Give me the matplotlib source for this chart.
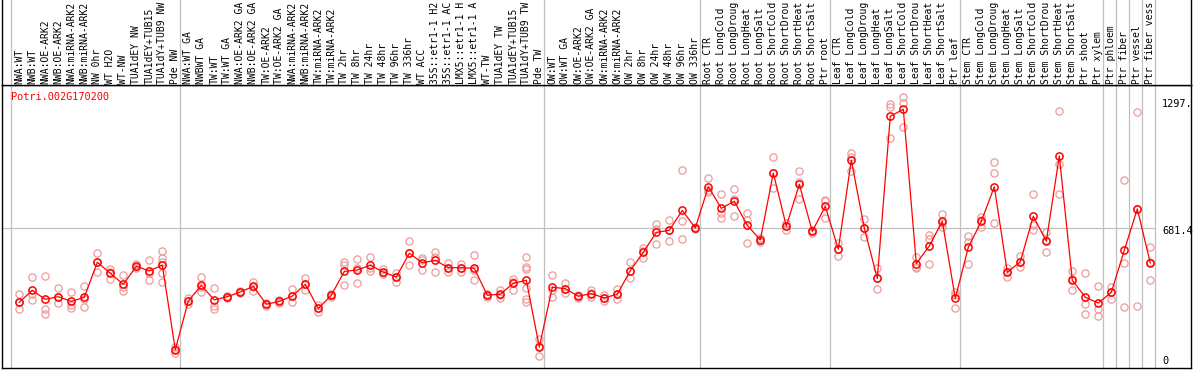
import matplotlib
matplotlib.use("Agg")
import matplotlib.pyplot as plt

gene = "Potri.002G170200"

labels = [
    "NWA:WT", "NWB:WT", "NWA:OE-ARK2", "NWB:OE-ARK2", "NWA:miRNA-ARK2", "NWB:miRNA-ARK2",
    "NW 0hr", "WT H2O", "WT-NW", "TUA1dEY NW", "TUA1dEY+TUB15", "TUA1dY+TUB9 NW", "Pde NW",
    "NWA:WT GA", "NWBWT GA", "TW:WT", "TW:WT GA", "NWA:OE-ARK2 GA", "NWB:OE-ARK2 GA",
    "TW:OE-ARK2", "TW:OE-ARK2 GA", "NWA:miRNA-ARK2", "NWB:miRNA-ARK2", "TW:miRNA-ARK2",
    "TW:miRNA-ARK2", "TW 2hr", "TW 8hr", "TW 24hr", "TW 48hr", "TW 96hr", "TW 336hr",
    "WT ACC", "35S::etr1-1 H2", "35S::etr1-1 AC", "LMX5::etr1-1 H", "LMX5::etr1-1 A",
    "WT-TW", "TUA1dEY TW", "TUA1dEY+TUB15", "TUA1dY+TUB9 TW", "Pde TW",
    "OW:WT", "OW:WT GA", "OW:OE-ARK2", "OW:OE-ARK2 GA", "OW:miRNA-ARK2", "OW:miRNA-ARK2",
    "OW 2hr", "OW 8hr", "OW 24hr", "OW 48hr", "OW 96hr", "OW 336hr",
    "Root CTR", "Root LongCold", "Root LongDroug", "Root LongHeat", "Root LongSalt",
    "Root ShortCold", "Root ShortDrou", "Root ShortHeat", "Root ShortSalt", "Ptr root",
    "Leaf CTR", "Leaf LongCold", "Leaf LongDroug", "Leaf LongHeat", "Leaf LongSalt",
    "Leaf ShortCold", "Leaf ShortDrou", "Leaf ShortHeat", "Leaf ShortSalt", "Ptr leaf",
    "Stem CTR", "Stem LongCold", "Stem LongDroug", "Stem LongHeat", "Stem LongSalt",
    "Stem ShortCold", "Stem ShortDrou", "Stem ShortHeat", "Stem ShortSalt", "Ptr shoot",
    "Ptr xylem", "Ptr phloem", "Ptr fiber", "Ptr vessel", "Ptr fiber vess",
]

means = [
    320, 378, 334, 347, 324, 344, 514, 461, 407, 495, 472, 501, 89,
    326, 402, 331, 347, 370, 397, 310, 324, 350, 407, 290, 354, 470, 477, 500, 467, 443,
    558, 512, 524, 488, 488, 485, 354, 359, 412, 427, 102,
    393, 386, 349, 362, 341, 359, 474, 563, 660, 670, 767, 681,
    882, 777, 811, 694, 623, 949, 690, 894, 665, 787,
    578, 1011, 680, 436, 1225, 1259, 508, 594, 714, 339,
    587, 714, 882, 466, 517, 738, 617, 1032, 427, 344, 316,
    368, 573, 774, 511,
]

reps = [
    [358, 320, 285], [441, 360, 329], [448, 285, 264], [388, 347, 315], [370, 308, 290],
    [399, 334, 298], [560, 514, 469], [482, 469, 433], [451, 393, 373], [506, 493, 485],
    [524, 464, 427], [571, 537, 517, 461, 417], [104, 91, 71],
    [339, 326, 311], [443, 396, 368], [388, 303, 287], [352, 347, 342], [375, 370, 363],
    [420, 396, 375], [315, 310, 303], [331, 324, 318], [383, 350, 320], [436, 407, 378],
    [307, 290, 274], [360, 353, 347], [517, 503, 402], [532, 487, 412], [540, 487, 472],
    [482, 462, 457], [464, 444, 418], [616, 558, 500], [534, 526, 478], [563, 542, 465],
    [513, 485, 469], [508, 488, 469], [550, 477, 427], [360, 353, 347], [378, 355, 342],
    [435, 420, 380], [538, 490, 482, 389, 336, 323], [139, 107, 58],
    [453, 380, 344], [412, 383, 363], [355, 349, 342], [380, 363, 344], [355, 339, 328],
    [383, 358, 334], [514, 474, 436], [582, 569, 537], [701, 675, 603], [720, 672, 616],
    [963, 714, 626], [688, 681, 675],
    [923, 866, 858], [845, 753, 732], [871, 821, 740], [756, 720, 610], [631, 623, 615],
    [1025, 947, 874], [704, 689, 672], [959, 903, 822], [672, 665, 658], [819, 813, 728],
    [607, 577, 547], [1045, 1028, 959], [725, 680, 637], [488, 436, 383], [1286, 1268, 1119],
    [1317, 1291, 1171], [542, 493, 488], [647, 628, 506], [748, 707, 688], [370, 357, 290],
    [642, 615, 506], [735, 720, 684], [1001, 947, 704], [485, 467, 444], [547, 517, 490],
    [845, 697, 672], [663, 623, 563], [1249, 993, 847], [470, 431, 378], [462, 313, 261],
    [399, 289, 251],
    [396, 371, 337], [915, 511, 295], [1244, 774, 302], [589, 517, 427],
]

# last sample index of each group (0 = left edge)
group_ends = [0, 13, 41, 53, 63, 73, 84, 85, 86, 87, 88]
ytick_vals = [1297.6, 681.4, 0]
ytick_text = ["1297.", "681.4", "0"]

W, H = 1194, 370
mono = "DejaVu Sans Mono"
grid = "#c0c0c0"
pink = "#ec9a9a"

fig = plt.figure(figsize=(W / 100, H / 100), dpi=100)
xlim = (-0.331, 91.13)

ax = fig.add_axes([2 / W, 2 / H, 1189 / W, 283 / H])
axh = fig.add_axes([2 / W, 285 / H, 1189 / W, 85 / H])

for a in (ax, axh):
    a.set_xlim(*xlim)
    a.set_xticks([])
    a.set_yticks([])
    for e in group_ends:
        a.axvline(e + 0.36, color=grid, lw=0.9, zorder=1)
    for s in a.spines.values():
        s.set_color("black")
        s.set_linewidth(1.0)
axh.spines["top"].set_visible(False)
axh.set_ylim(0, 85)

xs = list(range(1, len(means) + 1))
for i, r in zip(xs, reps):
    ax.plot([i] * len(r), r, "o", mfc="none", mec=pink, ms=5.2, mew=0.9, zorder=2)
ax.plot(xs, means, "-", color="red", lw=0.9, zorder=3)
ax.plot(xs, means, "o", mfc="none", mec="red", ms=5.2, mew=1.1, zorder=4)

ax.set_ylim(0, 1377)
ax.hlines(681.4, xlim[0], group_ends[-1] + 0.36, color=grid, lw=0.9, zorder=1)

for i, lab in zip(xs, labels):
    axh.text(i, 1.5, lab, rotation=90, ha="center", va="bottom",
             family=mono, fontsize=7.0, color="black")

ax.text(0.38, 1319, gene, color="red", family=mono, fontsize=7.4,
        ha="left", va="center", zorder=5)

for v, t in zip(ytick_vals, ytick_text):
    if v == 0:
        ax.text(88.9, 8, t, family=mono, fontsize=7.4, ha="left", va="bottom")
    else:
        ax.text(88.9, v + 10, t, family=mono, fontsize=7.4, ha="left", va="top")

fig.savefig("out.png", dpi=100)
